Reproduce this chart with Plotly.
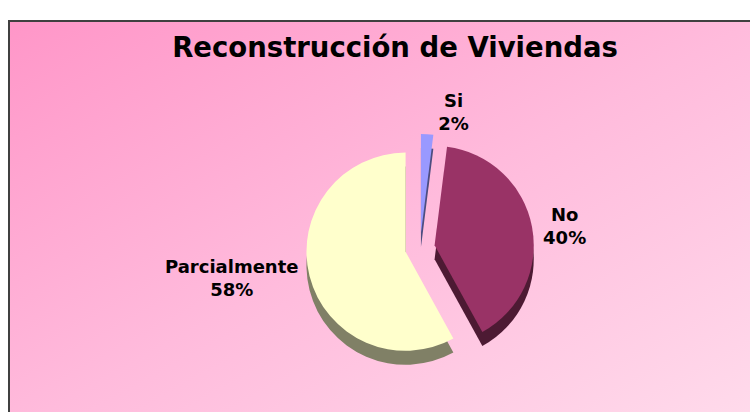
import base64
import plotly.graph_objects as go

# ---- data ----
labels = ["Si", "No", "Parcialmente"]
values = [2, 40, 58]
top_colors = ["#9999FF", "#993366", "#FFFFCC"]
side_colors = ["#4D4D80", "#4D1A33", "#808066"]
pulls = [0.15, 0.15, 0.15]
title_text = "Reconstrucción de Viviendas"

W, H = 750, 412
FONT = "DejaVu Sans"

def px(x):
    return x / W

def py(y):
    return 1 - y / H

# gradient background as SVG data-URI
svg = (
    '<svg xmlns="http://www.w3.org/2000/svg" width="800" height="420" '
    'preserveAspectRatio="none" viewBox="0 0 800 420">'
    '<defs><linearGradient id="g" x1="0" y1="0" x2="1" y2="1">'
    '<stop offset="0" stop-color="#FF96C8"/>'
    '<stop offset="0.5" stop-color="#FFBBDC"/>'
    '<stop offset="1" stop-color="#FFDCEC"/>'
    '</linearGradient></defs>'
    '<rect x="0" y="0" width="800" height="420" fill="url(#g)"/></svg>'
)
bg_uri = "data:image/svg+xml;base64," + base64.b64encode(svg.encode()).decode()

# pie placement (window pixels)
cx, cy = 420, 248
half = 114
depth = 14

def dom(offset_px):
    return dict(
        x=[px(cx - half), px(cx + half)],
        y=[py(cy + half + offset_px), py(cy - half + offset_px)],
    )

fig = go.Figure()
# darker copy underneath = extrusion / side of the 3D pie
fig.add_trace(go.Pie(
    labels=labels, values=values, sort=False, direction="clockwise", rotation=0,
    pull=pulls, marker=dict(colors=side_colors, line=dict(width=0)),
    textinfo="none", hoverinfo="skip", showlegend=False, domain=dom(depth),
))
fig.add_trace(go.Pie(
    labels=labels, values=values, sort=False, direction="clockwise", rotation=0,
    pull=pulls, marker=dict(colors=top_colors, line=dict(width=0)),
    texttemplate="%{label}<br>%{percent:.0%}", textposition="outside",
    outsidetextfont=dict(family=FONT, size=18, color="black", weight="bold"),
    showlegend=False, domain=dom(0),
))

fig.update_layout(
    width=W, height=H,
    margin=dict(l=0, r=0, t=0, b=0),
    paper_bgcolor="white", plot_bgcolor="rgba(0,0,0,0)",
    title=dict(text=title_text, x=px(395), y=py(47), xanchor="center", yanchor="middle",
               font=dict(family=FONT, size=27.5, color="black", weight="bold")),
    images=[dict(source=bg_uri, xref="paper", yref="paper", x=px(8), y=py(20),
                 sizex=1.0, sizey=1.0, xanchor="left", yanchor="top",
                 sizing="stretch", layer="below")],
    shapes=[dict(type="rect", xref="paper", yref="paper", x0=px(9), x1=1.05,
                 y0=-0.05, y1=py(21), line=dict(color="#404040", width=2),
                 layer="above")],
)

fig.write_html(
    "out.html",
    config={"displayModeBar": False},
    post_script="document.body.style.margin='0';document.body.style.overflow='hidden';",
)
